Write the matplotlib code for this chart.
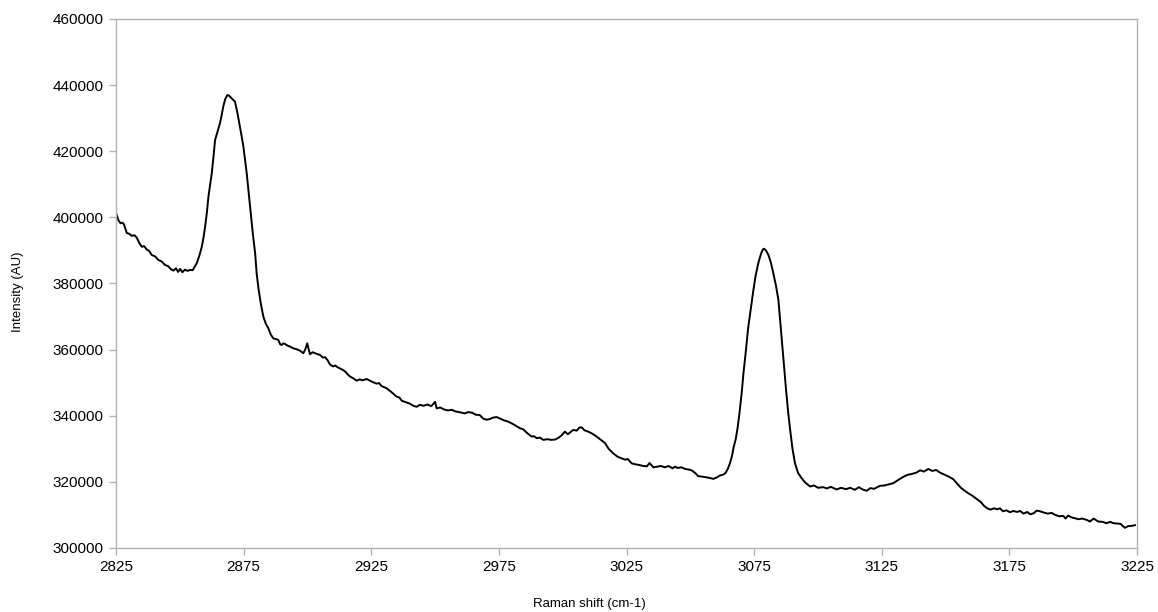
import matplotlib.pyplot as plt

# Raman spectrum, values
shift = [
    2825.0, 2826.0, 2826.8, 2827.5, 2828.1, 2829.2, 2830.2, 2831.2, 2832.2, 2833.1,
    2834.0, 2835.1, 2836.0, 2837.0, 2838.0, 2839.0, 2840.3, 2841.6, 2842.8, 2844.2,
    2845.5, 2846.5, 2847.5, 2848.5, 2849.3, 2850.1, 2851.0, 2852.0, 2853.0, 2854.0,
    2855.0, 2856.0, 2856.6, 2857.6, 2858.6, 2859.3, 2859.9, 2860.6, 2861.2, 2861.9,
    2862.5, 2863.2, 2863.8, 2864.8, 2865.7, 2866.4, 2867.0, 2867.8, 2868.6, 2869.3,
    2869.9, 2870.8, 2871.6, 2872.5, 2873.3, 2874.1, 2874.9, 2875.6, 2876.2, 2877.0,
    2877.8, 2878.6, 2879.5, 2880.1, 2880.8, 2881.7, 2882.7, 2883.7, 2884.7, 2885.6,
    2886.6, 2887.6, 2888.6, 2889.3, 2889.9, 2890.5, 2891.2, 2892.2, 2893.2, 2894.4,
    2895.8, 2897.0, 2898.4, 2899.2, 2899.9, 2900.5, 2901.0, 2902.0, 2903.0, 2904.0,
    2904.9, 2906.0, 2906.9, 2907.8, 2908.8, 2910.0, 2911.0, 2911.5, 2912.5, 2914.0,
    2915.0, 2916.0, 2917.0, 2918.0, 2919.3, 2920.5, 2921.5, 2923.2, 2924.5, 2925.5,
    2927.1, 2928.0, 2929.0, 2931.0, 2932.5, 2934.9, 2936.0, 2937.0, 2938.8, 2940.0,
    2941.5, 2942.8, 2944.0, 2945.5, 2947.0, 2948.5, 2950.0, 2950.6, 2952.0, 2953.5,
    2955.0, 2956.5, 2958.0, 2960.0, 2961.5, 2963.0, 2964.5, 2966.0, 2967.5, 2968.9,
    2970.2, 2971.5, 2972.5, 2974.1, 2975.5, 2977.0, 2978.7, 2980.7, 2982.0, 2983.3,
    2984.5, 2986.0, 2987.8, 2988.8, 2989.8, 2991.0, 2992.4, 2994.0, 2995.5, 2997.0,
    2998.3, 2999.5, 3000.9, 3002.0, 3003.0, 3004.1, 3005.5, 3006.5, 3007.4, 3008.5,
    3010.0, 3011.5, 3013.3, 3014.8, 3016.6, 3018.0, 3019.8, 3021.5, 3023.1, 3024.5,
    3025.5, 3027.0, 3028.5, 3030.0, 3031.6, 3033.0, 3034.0, 3035.5, 3037.0, 3038.5,
    3040.0, 3041.5, 3043.0, 3044.0, 3045.0, 3046.5, 3048.0, 3049.5, 3050.5, 3052.0,
    3053.1, 3054.5, 3056.0, 3057.5, 3059.0, 3060.5, 3061.5, 3062.9, 3063.8, 3064.7,
    3065.5, 3066.3, 3067.0, 3067.8, 3068.5, 3069.2, 3070.1, 3070.8, 3071.8, 3072.7,
    3073.7, 3074.7, 3075.6, 3076.6, 3077.6, 3078.4, 3078.9, 3079.7, 3080.6, 3081.6,
    3082.5, 3083.5, 3084.5, 3085.1, 3085.8, 3086.6, 3087.5, 3088.3, 3089.1, 3090.0,
    3091.0, 3092.2, 3093.6, 3095.0, 3096.9, 3098.5, 3100.0, 3102.1, 3103.5, 3105.0,
    3107.3, 3109.0, 3111.0, 3112.6, 3114.5, 3116.0, 3117.5, 3119.1, 3120.5, 3122.0,
    3124.3, 3126.0, 3127.5, 3129.5, 3131.5, 3133.4, 3135.0, 3136.8, 3138.6, 3140.0,
    3141.5, 3143.2, 3144.8, 3146.3, 3147.8, 3149.5, 3151.2, 3153.0, 3154.5, 3156.0,
    3157.5, 3159.0, 3160.5, 3162.2, 3163.8, 3165.0, 3166.1, 3167.5, 3169.0, 3170.2,
    3171.3, 3172.5, 3173.8, 3175.2, 3176.5, 3178.0, 3179.2, 3180.5, 3182.0, 3183.1,
    3184.5, 3185.7, 3187.0, 3188.5, 3190.0, 3191.5, 3193.0, 3194.5, 3196.1, 3197.0,
    3198.0, 3199.5, 3200.7, 3202.0, 3203.5, 3205.3, 3206.5, 3208.0, 3209.8, 3211.5,
    3213.0, 3214.5, 3215.7, 3217.0, 3218.5, 3219.5, 3220.3, 3221.5, 3223.0, 3224.2,
]
intensity = [
    401300, 399000, 398200, 398400, 397900, 395300, 395000, 394400, 394600, 393900,
    392400, 391100, 391300, 390300, 389800, 388600, 388200, 387100, 386700, 385600,
    385200, 384300, 383900, 384600, 383500, 384400, 383400, 384200, 383800, 384100,
    384000, 385300, 386100, 388300, 391100, 394000, 397200, 401500, 406300, 410000,
    413300, 418500, 423400, 426000, 428400, 431000, 433500, 435800, 437000, 436800,
    436300, 435600, 435000, 431800, 428400, 425000, 421400, 417000, 413300, 407200,
    401200, 395000, 389100, 383000, 378500, 374000, 370000, 367800, 366400, 364600,
    363400, 363200, 362900, 361600, 361400, 361900, 361700, 361200, 360900, 360400,
    360100, 359700, 358900, 360200, 361900, 360000, 358600, 359200, 358900, 358600,
    358400, 357600, 357700, 356900, 355500, 354900, 355200, 354800, 354400, 353800,
    353200, 352300, 351700, 351300, 350600, 351000, 350700, 351100, 350600, 350200,
    349700, 349900, 349000, 348300, 347400, 345800, 345500, 344500, 344000, 343700,
    343000, 342700, 343300, 343000, 343400, 342900, 344200, 342200, 342500, 341900,
    341600, 341800, 341300, 341000, 340700, 341100, 340900, 340300, 340200, 339100,
    338800, 339000, 339400, 339600, 339100, 338600, 338200, 337400, 336800, 336200,
    335900, 334800, 333700, 333800, 333200, 333400, 332700, 332900, 332700, 332800,
    333300, 334000, 335200, 334400, 335000, 335700, 335500, 336400, 336500, 335600,
    335200, 334600, 333700, 332800, 331700, 330000, 328600, 327600, 327100, 326700,
    326900, 325600, 325300, 325100, 324800, 324700, 325700, 324400, 324600, 324800,
    324400, 324800, 324100, 324600, 324200, 324400, 323900, 323700, 323500, 322600,
    321700, 321600, 321400, 321200, 320900, 321400, 321900, 322200, 322700, 324000,
    325600, 327800, 330600, 333000, 336300, 340500, 346800, 352800, 360000, 366900,
    372500, 378000, 382500, 386100, 388800, 390300, 390500, 389900, 388600, 386200,
    383100, 379500, 375000, 369500, 362900, 355800, 347800, 341200, 335700, 330100,
    325600, 322700, 321100, 319800, 318600, 318900, 318200, 318400, 318000, 318500,
    317700, 318200, 317800, 318200, 317600, 318400, 317700, 317300, 318100, 317900,
    318800, 318900, 319200, 319600, 320600, 321500, 322100, 322400, 322800, 323500,
    323100, 323900, 323300, 323600, 322800, 322200, 321600, 320800, 319500, 318200,
    317300, 316500, 315800, 314800, 313900, 312800, 312100, 311600, 312000, 311700,
    312000, 311100, 311400, 310800, 311200, 310900, 311200, 310400, 310900, 310200,
    310500, 311300, 311100, 310700, 310400, 310600, 310000, 309600, 309700, 308900,
    309800, 309200, 309000, 308700, 308900, 308500, 308000, 308900, 308000, 307900,
    307500, 307900, 307500, 307400, 307300, 306600, 306100, 306600, 306700, 306900,
]
x_ticks = [2825, 2875, 2925, 2975, 3025, 3075, 3125, 3175, 3225]
y_ticks = [300000, 320000, 340000, 360000, 380000, 400000, 420000, 440000, 460000]

plt.rcParams['font.family'] = ['Liberation Sans', 'DejaVu Sans']

fig = plt.figure(figsize=(11.58, 6.12), dpi=100)
ax = fig.add_axes([0.1002, 0.1046, 0.8817, 0.8644])

ax.plot(shift, intensity, color='black', lw=1.4)

ax.set_xlim(2825, 3225)
ax.set_ylim(300000, 460000)
ax.set_xticks(x_ticks)
ax.set_yticks(y_ticks)
ax.set_xticklabels([str(v) for v in x_ticks])
ax.set_yticklabels([str(v) for v in y_ticks])

for s in ax.spines.values():
    s.set_color('#b3b3b3')
    s.set_linewidth(1.0)
ax.tick_params(axis='both', direction='out', length=5, width=1.0,
               color='#b3b3b3', labelsize=11, labelcolor='black', pad=4)

ax.set_xlabel('Raman shift (cm-1)', fontsize=9.5)
ax.set_ylabel('Intensity (AU)', fontsize=9.5)
ax.xaxis.set_label_coords(0.464, -0.094)
ax.yaxis.set_label_coords(-0.090, 0.484)

fig.savefig('out.png', dpi=100)
